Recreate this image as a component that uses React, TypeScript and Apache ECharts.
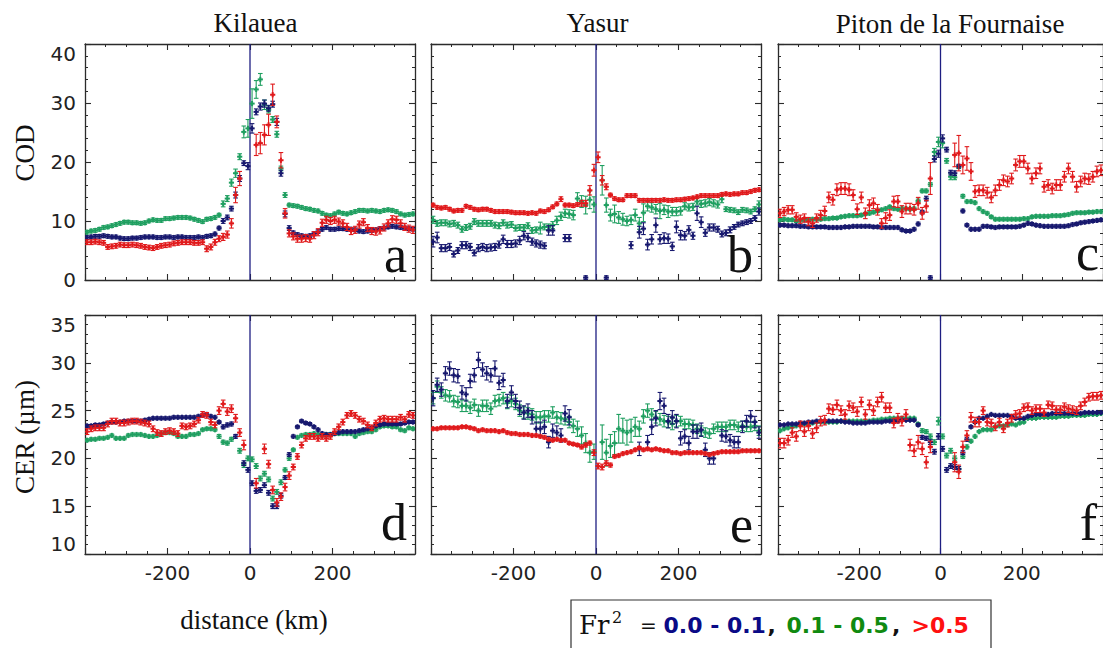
import React, { useEffect, useRef } from 'react';
import * as echarts from 'echarts';

// distance from the volcano (km), bin centres
const DIST = [
  -395,-385,-375,-365,-355,-345,-335,-325,-315,-305,
  -295,-285,-275,-265,-255,-245,-235,-225,-215,-205,
  -195,-185,-175,-165,-155,-145,-135,-125,-115,-105,
  -95,-85,-75,-65,-55,-45,-35,-25,-15,-5,
  5,15,25,35,45,55,65,75,85,95,
  105,115,125,135,145,155,165,175,185,195,
  205,215,225,235,245,255,265,275,285,295,
  305,315,325,335,345,355,365,375,385,395];

const VOLCANOES = ['Kilauea', 'Yasur', 'Piton de la Fournaise'];
const LETTERS = ['a', 'b', 'c', 'd', 'e', 'f'];
const COD_TICKS = [0, 10, 20, 30, 40];
const CER_TICKS = [10, 15, 20, 25, 30, 35];
const X_TICKS = [-200, 0, 200];

// ---------- COD, Kilauea (a)
const aNavy = [
  7.2,7.3,7.4,7.4,7.5,7.4,7.3,7.3,7.1,7.0,
  7.0,7.1,7.1,7.2,7.3,7.3,7.3,7.2,7.2,7.3,
  7.3,7.2,7.3,7.3,7.2,7.2,7.2,7.3,7.2,7.4,
  7.5,7.8,8.8,10.0,10.6,12.1,14.4,17.2,19.8,19.3,
  25.7,28.5,29.4,29.9,29.1,29.8,26.8,18.1,11.2,8.8,
  8.0,7.7,7.5,7.4,7.5,7.8,8.2,8.6,8.9,8.6,
  8.6,8.7,8.7,8.6,8.6,8.5,8.3,8.2,8.3,8.4,
  8.5,8.7,8.8,9.0,9.1,9.0,8.9,8.8,8.7,8.6];
const aNavyErr = [
  0.3,0.3,0.3,0.3,0.3,0.3,0.3,0.3,0.3,0.3,
  0.3,0.3,0.3,0.3,0.3,0.3,0.3,0.3,0.3,0.3,
  0.3,0.3,0.3,0.3,0.3,0.3,0.3,0.3,0.3,0.3,
  0.3,0.3,0.3,0.4,0.4,0.4,0.5,0.5,0.4,0.6,
  0.8,0.5,0.6,0.6,0.5,0.5,0.6,0.5,0.5,0.4,
  0.3,0.3,0.3,0.3,0.3,0.3,0.3,0.3,0.3,0.3,
  0.3,0.3,0.3,0.3,0.3,0.3,0.3,0.3,0.3,0.3,
  0.3,0.3,0.3,0.3,0.3,0.3,0.3,0.3,0.3,0.3];
const aGreen = [
  8.1,8.3,8.4,8.6,8.9,9.0,9.2,9.4,9.6,9.8,
  9.8,9.7,9.7,9.6,9.7,10.0,10.2,10.1,10.1,10.4,
  10.4,10.5,10.6,10.6,10.6,10.5,10.3,10.1,9.9,10.3,
  10.4,10.6,11.0,12.9,13.8,16.5,18.1,20.9,25.1,25.7,
  29.9,32.3,34.0,29.7,28.8,27.2,24.7,18.9,14.4,12.7,
  12.6,12.5,12.3,12.1,12.0,11.8,11.7,11.3,11.0,10.9,
  11.2,11.5,11.3,11.2,11.4,11.6,11.8,11.8,11.7,11.8,
  11.7,11.6,11.8,11.9,11.8,11.6,11.2,11.0,11.1,11.2];
const aGreenErr = [
  0.3,0.3,0.3,0.3,0.3,0.3,0.3,0.3,0.3,0.3,
  0.3,0.3,0.3,0.3,0.3,0.3,0.3,0.3,0.3,0.3,
  0.3,0.3,0.3,0.3,0.3,0.3,0.3,0.3,0.3,0.3,
  0.3,0.3,0.3,0.5,0.5,0.6,0.7,0.5,1.0,1.5,
  2.5,1.5,1.0,0.8,0.5,0.5,0.5,0.4,0.4,0.3,
  0.3,0.3,0.3,0.3,0.3,0.3,0.3,0.3,0.3,0.3,
  0.3,0.3,0.3,0.3,0.3,0.3,0.3,0.3,0.3,0.3,
  0.3,0.3,0.3,0.3,0.3,0.3,0.3,0.3,0.3,0.3];
const aRed = [
  6.4,6.4,6.5,6.4,6.3,5.6,5.7,5.8,6.0,5.9,
  5.9,6.0,5.9,5.8,5.6,5.5,5.4,5.6,5.8,5.9,
  6.0,6.2,6.3,6.4,6.4,6.4,6.3,6.3,6.4,5.3,
  5.6,6.4,7.0,7.3,7.7,9.6,14.4,17.2,null,null,
  null,22.9,23.2,24.6,26.3,31.4,26.8,20.3,11.3,7.9,
  7.4,7.0,7.0,7.1,7.0,7.6,8.1,9.7,10.2,10.0,
  10.2,9.9,9.6,9.0,8.3,8.5,9.4,9.8,8.8,8.3,
  8.2,8.4,8.9,9.6,10.3,10.2,9.6,9.0,8.7,8.5];
const aRedErr = [
  0.4,0.4,0.4,0.4,0.4,0.4,0.4,0.4,0.4,0.4,
  0.4,0.4,0.4,0.4,0.4,0.4,0.4,0.4,0.4,0.4,
  0.4,0.4,0.4,0.4,0.4,0.4,0.4,0.4,0.4,0.5,
  0.5,0.5,0.5,0.6,0.6,0.8,1.3,1.2,0,0,
  0,1.8,1.8,1.7,1.8,1.8,1.0,1.3,0.8,0.6,
  0.6,0.6,0.6,0.6,0.6,0.6,0.6,0.6,0.6,0.6,
  0.6,0.6,0.6,0.6,0.6,0.6,0.6,0.6,0.6,0.6,
  0.6,0.6,0.6,0.6,0.6,0.6,0.6,0.6,0.6,0.6];

// ---------- COD, Yasur (b)
const bNavy = [
  6.5,7.2,5.4,5.4,5.6,4.4,5.0,5.9,5.9,5.6,
  4.6,5.4,5.6,5.4,5.5,5.6,6.0,6.9,6.1,6.1,
  6.2,6.7,7.5,7.2,6.5,6.2,6.0,5.8,8.4,8.4,
  null,null,7.1,7.1,null,null,null,0.4,null,null,
  null,null,0.4,null,null,null,null,null,5.9,null,
  8.1,8.7,6.0,6.9,9.3,6.9,7.1,7.0,5.7,9.0,
  7.6,7.5,8.5,7.5,11.3,9.8,8.0,8.9,8.9,8.6,
  7.8,8.0,8.5,9.0,9.4,9.6,9.8,10.0,10.5,11.6];
const bNavyErr = [
  0.9,0.9,0.6,0.6,0.6,0.5,0.5,0.6,0.6,0.6,
  0.5,0.6,0.6,0.6,0.6,0.6,0.6,0.7,0.6,0.6,
  0.6,0.7,0.7,0.7,0.6,0.6,0.6,0.5,0.8,0.8,
  0,0,0.6,0.6,0,0,0,0.3,0,0,
  0,0,0.3,0,0,0,0,0,0.6,0,
  1.0,1.0,0.9,0.8,1.2,0.8,0.9,0.8,0.7,1.0,
  0.8,0.7,0.7,0.6,1.2,0.9,0.6,0.6,0.6,0.5,
  0.5,0.5,0.5,0.4,0.4,0.4,0.4,0.4,0.4,0.6];
const bGreen = [
  10.2,9.6,9.7,9.7,9.5,9.6,9.3,8.6,8.9,9.1,
  9.9,9.6,9.6,9.6,9.6,9.3,9.2,9.7,9.3,9.4,
  8.8,8.9,8.9,9.2,8.4,8.5,8.8,9.0,9.0,9.3,
  10.1,10.8,11.3,11.2,11.0,13.8,13.3,12.7,13.6,12.8,
  null,16.9,12.7,11.0,11.2,10.6,10.3,10.0,10.2,11.0,
  9.6,11.4,12.5,12.3,12.0,11.7,11.9,11.6,11.6,11.6,
  11.7,12.5,12.3,12.4,13.3,12.9,13.0,13.2,13.0,12.8,
  13.7,12.0,11.9,11.8,11.5,11.9,11.8,11.6,12.0,12.8];
const bGreenErr = [
  0.6,0.5,0.5,0.5,0.5,0.5,0.5,0.5,0.5,0.5,
  0.5,0.5,0.5,0.5,0.5,0.5,0.5,0.5,0.5,0.5,
  0.5,0.5,0.5,0.5,0.5,0.5,1.0,0.5,0.5,0.6,
  0.7,0.7,0.7,0.7,0.8,1.0,1.0,1.5,1.5,1.3,
  0,2.5,1.2,1.0,1.5,1.0,1.0,0.8,0.8,1.0,
  1.0,1.5,0.8,0.8,0.8,1.3,0.8,1.0,0.7,0.7,
  0.7,0.6,0.6,0.6,0.6,0.6,0.6,0.6,0.6,0.6,
  0.6,0.4,0.4,0.4,0.4,0.4,0.4,0.4,0.4,0.6];
const bRed = [
  12.7,12.3,12.2,12.3,12.0,11.7,11.8,11.8,12.5,12.3,
  12.0,11.9,12.0,12.0,11.8,11.6,11.6,11.6,11.6,11.5,
  11.4,11.4,11.4,11.3,11.4,11.3,11.7,11.6,11.9,12.4,
  12.9,13.7,12.7,12.7,12.6,12.8,13.0,13.0,15.2,18.6,
  20.8,16.9,15.8,14.4,13.8,13.6,13.6,14.3,14.3,14.3,
  13.5,13.5,13.5,13.5,13.5,13.5,13.6,13.5,13.5,13.6,
  13.6,13.7,13.8,13.9,14.1,14.3,14.3,14.3,14.3,14.3,
  14.5,14.6,14.5,14.6,14.6,14.8,14.8,15.0,15.2,15.3];
const bRedErr = [
  0.3,0.3,0.3,0.3,0.3,0.3,0.3,0.3,0.3,0.3,
  0.3,0.3,0.3,0.3,0.3,0.3,0.3,0.3,0.3,0.3,
  0.3,0.3,0.3,0.3,0.3,0.3,0.3,0.3,0.3,0.3,
  0.3,0.4,0.3,0.3,0.3,0.3,0.5,0.5,0.8,1.0,
  0.9,0.8,0.5,0.3,0.3,0.3,0.3,0.3,0.3,0.3,
  0.3,0.3,0.3,0.3,0.3,0.3,0.3,0.3,0.3,0.3,
  0.3,0.3,0.3,0.3,0.3,0.3,0.3,0.3,0.3,0.3,
  0.3,0.3,0.3,0.3,0.3,0.3,0.3,0.3,0.3,0.3];

// ---------- COD, Piton de la Fournaise (c)
const cNavy = [
  9.3,9.3,9.2,9.2,9.2,9.1,9.1,9.0,9.0,9.0,
  9.0,9.0,8.9,8.9,8.9,8.9,9.0,9.0,9.1,9.1,
  9.1,9.1,9.1,9.0,9.0,8.9,8.9,8.9,8.9,8.9,
  8.5,8.3,8.3,8.6,9.5,11.5,13.8,0.4,20.5,21.4,
  24.0,22.1,18.2,18.1,19.3,11.7,9.3,8.6,8.6,8.6,
  9.1,9.1,9.0,8.9,9.0,9.0,9.0,9.0,9.0,9.1,
  9.3,9.6,9.5,9.3,9.2,9.1,9.1,9.1,9.1,9.1,
  9.1,9.2,9.4,9.5,9.7,9.8,9.9,10.0,10.1,10.2];
const cNavyErr = [
  0.25,0.25,0.25,0.25,0.25,0.25,0.25,0.25,0.25,0.25,
  0.25,0.25,0.25,0.25,0.25,0.25,0.25,0.25,0.25,0.25,
  0.25,0.25,0.25,0.25,0.25,0.25,0.25,0.25,0.25,0.25,
  0.25,0.25,0.25,0.25,0.3,0.3,0.4,0.3,0.5,0.6,
  0.6,0.4,0.4,0.4,0.3,0.3,0.25,0.25,0.25,0.25,
  0.25,0.25,0.25,0.25,0.25,0.25,0.25,0.25,0.25,0.25,
  0.25,0.25,0.25,0.25,0.25,0.25,0.25,0.25,0.25,0.25,
  0.25,0.25,0.25,0.25,0.25,0.25,0.25,0.25,0.25,0.25];
const cGreen = [
  10.2,10.3,10.2,10.2,10.0,10.1,10.2,10.2,10.3,10.3,
  10.3,10.4,10.4,10.5,10.5,10.7,10.8,10.9,10.9,10.9,
  11.0,11.2,11.3,11.5,11.7,11.9,12.1,12.4,12.1,12.0,
  12.1,12.1,12.0,12.1,13.4,15.1,15.1,16.2,21.7,23.4,
  23.2,20.2,17.5,17.4,19.2,14.2,13.3,13.3,13.1,12.1,
  11.6,11.3,10.7,10.3,10.3,10.3,10.3,10.3,10.3,10.3,
  10.4,10.4,10.7,10.8,10.8,10.8,10.8,10.9,10.9,10.9,
  11.0,11.1,11.3,11.4,11.4,11.4,11.5,11.5,11.6,11.6];
const cGreenErr = [
  0.25,0.25,0.25,0.25,0.25,0.25,0.25,0.25,0.25,0.25,
  0.25,0.25,0.25,0.25,0.25,0.25,0.25,0.25,0.25,0.25,
  0.25,0.25,0.25,0.25,0.25,0.25,0.25,0.25,0.25,0.25,
  0.25,0.25,0.25,0.25,0.3,0.3,0.3,0.3,0.6,0.8,
  0.8,0.4,0.5,0.4,0.3,0.3,0.25,0.25,0.25,0.25,
  0.25,0.25,0.25,0.25,0.25,0.25,0.25,0.25,0.25,0.25,
  0.25,0.25,0.25,0.25,0.25,0.25,0.25,0.25,0.25,0.25,
  0.25,0.25,0.25,0.25,0.25,0.25,0.25,0.25,0.25,0.25];
const cRed = [
  11.3,11.6,11.9,11.9,10.7,10.3,10.5,9.9,9.6,10.5,
  11.0,11.7,14.0,13.6,15.3,15.5,15.5,15.3,14.4,12.0,
  14.0,11.3,12.7,13.0,11.9,9.6,10.5,11.0,13.3,13.3,
  11.6,12.1,12.1,11.9,13.0,11.3,12.5,17.2,null,null,
  null,null,null,21.2,21.5,19.5,20.6,18.4,15.0,15.2,
  15.2,14.8,14.0,15.2,16.1,16.9,16.7,17.2,19.5,20.1,
  20.1,18.9,17.2,18.1,18.9,15.8,16.1,15.5,16.1,16.1,
  17.5,18.9,17.5,15.8,16.7,17.2,17.1,17.5,18.4,18.6];
const cRedErr = [
  0.7,0.7,0.7,0.7,0.7,0.7,0.7,0.7,0.7,0.7,
  0.8,0.8,0.9,0.9,1.0,1.0,1.0,1.0,0.9,0.9,
  0.9,0.9,0.9,0.9,0.9,0.8,0.9,0.9,0.9,1.0,
  1.0,0.9,0.9,0.9,1.0,1.0,1.0,2.7,0,0,
  0,0,0,2.0,3.0,1.5,2.0,1.5,1.0,0.9,
  0.9,0.9,0.9,0.9,0.9,0.9,0.9,0.9,1.0,1.0,
  1.0,0.9,0.9,0.9,0.9,0.9,0.9,0.9,0.9,0.9,
  0.9,0.9,0.9,0.9,0.9,0.9,0.9,0.9,0.9,0.9];

// ---------- CER, Kilauea (d)
const dNavy = [
  23.4,23.4,23.5,23.5,23.6,23.7,23.8,23.8,23.8,23.9,
  23.9,23.9,23.9,23.9,24.0,24.1,24.2,24.2,24.2,24.2,
  24.2,24.3,24.3,24.3,24.3,24.3,24.3,24.4,24.5,24.6,
  24.4,24.3,23.8,23.3,23.5,23.6,22.3,null,19.5,18.8,
  17.4,16.6,16.7,17.2,16.4,15.0,15.0,16.1,18.0,20.4,
  22.3,23.3,23.9,23.7,23.6,23.3,23.0,22.6,22.5,22.5,
  22.6,22.7,22.8,22.8,22.8,22.8,22.9,23.0,23.1,23.2,
  23.4,23.5,23.6,23.6,23.6,23.6,23.6,23.7,23.8,23.8];
const dNavyErr = [
  0.15,0.15,0.15,0.15,0.15,0.15,0.15,0.15,0.15,0.15,
  0.15,0.15,0.15,0.15,0.15,0.15,0.15,0.15,0.15,0.15,
  0.15,0.15,0.15,0.15,0.15,0.15,0.15,0.15,0.15,0.15,
  0.15,0.15,0.15,0.2,0.2,0.2,0.2,0,0.25,0.25,
  0.25,0.25,0.25,0.25,0.25,0.25,0.25,0.25,0.2,0.2,
  0.15,0.15,0.15,0.15,0.15,0.15,0.15,0.15,0.15,0.15,
  0.15,0.15,0.15,0.15,0.15,0.15,0.15,0.15,0.15,0.15,
  0.15,0.15,0.15,0.15,0.15,0.15,0.15,0.15,0.15,0.15];
const dGreen = [
  21.9,22.0,22.0,22.1,22.1,22.2,22.4,22.1,22.1,22.1,
  22.4,22.5,22.5,22.5,22.4,22.3,22.3,22.4,22.6,22.7,
  22.7,22.6,22.3,22.3,22.3,22.5,22.5,22.6,23.0,23.1,
  23.1,23.0,22.3,21.7,21.6,22.0,null,20.8,19.3,20.0,
  19.9,19.2,17.9,18.4,17.8,15.8,16.5,17.5,18.8,20.0,
  20.9,22.2,22.4,22.5,22.5,22.6,22.5,22.4,22.5,22.5,
  22.6,22.6,22.6,22.6,22.6,22.3,22.6,22.7,22.8,22.8,
  23.0,23.3,23.4,23.4,23.3,23.3,23.0,22.9,23.2,23.1];
const dGreenErr = [
  0.15,0.15,0.15,0.15,0.15,0.15,0.15,0.15,0.15,0.15,
  0.15,0.15,0.15,0.15,0.15,0.15,0.15,0.15,0.15,0.15,
  0.15,0.15,0.15,0.15,0.15,0.15,0.15,0.15,0.15,0.15,
  0.15,0.15,0.2,0.2,0.2,0.2,0,0.25,0.25,0.25,
  0.25,0.25,0.25,0.25,0.25,0.25,0.25,0.25,0.2,0.2,
  0.15,0.15,0.15,0.15,0.15,0.15,0.15,0.15,0.15,0.15,
  0.15,0.15,0.15,0.15,0.15,0.15,0.15,0.15,0.15,0.15,
  0.15,0.15,0.15,0.15,0.15,0.15,0.15,0.15,0.15,0.15];
const dRed = [
  22.8,23.1,23.2,23.2,23.2,23.6,23.9,23.9,23.7,23.7,
  23.8,23.9,23.9,23.8,23.7,23.6,23.1,22.7,22.6,22.8,
  22.9,22.8,22.6,23.4,23.3,23.4,23.6,24.0,24.6,24.5,
  23.8,23.5,25.0,25.7,24.9,25.2,24.2,22.7,21.4,null,
  null,17.4,null,21.0,19.4,16.7,15.4,16.0,17.0,18.2,
  19.1,20.2,21.4,22.1,22.3,22.3,22.1,22.3,22.1,22.3,
  22.8,23.3,23.8,24.5,24.7,24.5,24.1,23.9,23.5,23.2,
  23.7,24.1,24.2,24.1,24.1,24.1,24.3,24.1,24.6,24.5];
const dRedErr = [
  0.3,0.3,0.3,0.3,0.3,0.3,0.3,0.3,0.3,0.3,
  0.3,0.3,0.3,0.3,0.3,0.3,0.3,0.3,0.3,0.3,
  0.3,0.3,0.3,0.3,0.3,0.3,0.3,0.3,0.3,0.3,
  0.3,0.3,0.4,0.4,0.4,0.4,0.4,0.4,0.5,0,
  0,0.5,0,0.5,0.4,0.4,0.4,0.4,0.4,0.4,
  0.3,0.3,0.3,0.3,0.3,0.3,0.3,0.3,0.3,0.3,
  0.3,0.3,0.3,0.3,0.3,0.3,0.3,0.3,0.3,0.3,
  0.3,0.3,0.3,0.3,0.3,0.3,0.3,0.3,0.3,0.3];

// ---------- CER, Yasur (e)
const eNavy = [
  26.3,27.7,27.2,28.9,29.4,28.7,28.6,26.9,26.7,28.1,
  28.7,30.3,29.3,28.9,28.7,29.4,27.9,28.2,26.0,26.9,
  26.0,25.3,24.8,25.0,24.3,23.1,23.1,23.3,21.7,22.9,
  22.7,22.4,24.7,24.3,null,null,null,null,null,null,
  null,null,null,null,null,null,null,null,null,null,
  21.0,null,21.7,23.3,24.2,26.0,25.5,23.9,24.3,23.9,
  22.1,22.3,21.6,22.8,22.8,23.0,20.9,20.0,20.0,null,
  22.4,22.3,21.9,21.7,21.7,23.3,23.9,24.4,23.8,22.7];
const eNavyErr = [
  0.8,0.7,0.7,0.7,0.7,0.7,0.7,0.7,0.7,0.7,
  0.7,0.8,0.7,0.7,0.7,0.8,0.7,0.7,0.7,0.7,
  0.7,0.7,0.7,0.7,0.7,0.7,0.7,0.7,0.6,0.7,
  0.7,0.7,0.8,0.8,0,0,0,0,0,0,
  0,0,0,0,0,0,0,0,0,0,
  0.7,0,0.7,0.8,0.8,0.9,0.8,0.7,0.7,0.7,
  0.7,0.7,0.7,0.7,0.7,0.7,0.7,0.6,0.6,0,
  0.6,0.6,0.6,0.6,0.6,0.6,0.6,0.6,0.6,0.6];
const eGreen = [
  26.3,27.5,26.9,26.6,26.5,26.0,25.9,25.5,25.5,25.3,
  25.6,25.0,25.5,25.5,25.2,26.0,26.1,26.3,25.8,26.0,
  25.7,25.0,24.8,24.7,24.6,24.3,24.3,24.4,24.4,24.8,
  24.3,24.2,24.1,23.8,23.4,23.1,22.4,21.6,20.6,20.7,
  null,21.7,20.6,21.3,21.6,23.1,22.9,22.7,22.9,23.3,
  23.1,24.4,25.0,24.6,24.3,24.1,23.9,23.8,23.6,23.9,
  23.9,23.6,23.6,23.5,23.1,22.9,22.7,22.6,23.1,23.3,
  23.3,23.3,23.5,23.5,23.3,23.4,23.3,23.3,23.4,22.9];
const eGreenErr = [
  0.6,0.6,0.6,0.6,0.6,0.6,0.6,0.6,0.6,0.6,
  0.6,0.6,0.6,0.6,0.6,0.6,0.6,0.6,0.6,0.6,
  0.6,0.6,0.6,0.6,0.6,0.6,0.6,0.6,0.6,0.6,
  0.6,0.6,0.6,0.6,0.7,0.8,0.9,1.0,1.0,0.8,
  0,1.8,1.4,1.2,1.2,1.5,1.3,1.3,1.2,1.0,
  0.8,0.7,0.7,0.6,0.6,0.6,0.6,0.6,0.6,0.6,
  0.5,0.5,0.5,0.5,0.5,0.5,0.5,0.5,0.5,0.5,
  0.5,0.5,0.5,0.5,0.5,0.5,0.5,0.5,0.5,0.5];
const eRed = [
  23.1,23.1,23.2,23.2,23.2,23.2,23.2,23.3,23.3,23.2,
  23.1,22.9,23.0,22.9,22.9,22.9,22.8,22.9,22.7,22.6,
  22.6,22.5,22.5,22.5,22.4,22.4,22.3,22.2,22.0,21.9,
  22.0,21.9,21.9,21.6,21.5,21.4,21.2,21.4,21.6,20.6,
  19.2,19.1,19.5,19.3,20.2,20.3,20.5,20.6,20.7,20.9,
  21.1,20.9,21.0,20.9,21.0,20.9,20.8,20.8,20.6,20.6,
  20.5,20.6,20.6,20.6,20.6,20.6,20.5,20.4,20.5,20.6,
  20.7,20.7,20.7,20.7,20.7,20.8,20.8,20.8,20.8,20.8];
const eRedErr = [
  0.15,0.15,0.15,0.15,0.15,0.15,0.15,0.15,0.15,0.15,
  0.15,0.15,0.15,0.15,0.15,0.15,0.15,0.15,0.15,0.15,
  0.15,0.15,0.15,0.15,0.15,0.15,0.15,0.15,0.15,0.15,
  0.15,0.15,0.15,0.15,0.15,0.15,0.2,0.2,0.2,0.3,
  0.3,0.3,0.25,0.2,0.15,0.15,0.15,0.15,0.15,0.15,
  0.15,0.15,0.15,0.15,0.15,0.15,0.15,0.15,0.15,0.15,
  0.15,0.15,0.15,0.15,0.15,0.15,0.15,0.15,0.15,0.15,
  0.15,0.15,0.15,0.15,0.15,0.15,0.15,0.15,0.15,0.15];

// ---------- CER, Piton de la Fournaise (f)
const fNavy = [
  23.5,23.5,23.6,23.6,23.6,23.7,23.7,23.8,23.8,23.9,
  23.9,23.9,23.9,23.9,23.9,23.9,23.8,23.8,23.7,23.7,
  23.7,23.7,23.8,23.8,23.8,23.8,23.9,23.9,23.9,23.9,
  24.0,24.0,24.0,24.0,23.5,22.2,22.1,21.7,20.7,22.3,
  21.0,18.8,19.2,19.1,18.9,20.6,22.0,23.3,23.8,24.2,
  24.2,24.4,24.6,24.5,24.5,24.5,24.5,24.4,24.2,24.2,
  24.2,24.4,24.5,24.6,24.6,24.6,24.6,24.7,24.7,24.7,
  24.7,24.7,24.7,24.7,24.7,24.8,24.8,24.8,24.8,24.8];
const fNavyErr = [
  0.12,0.12,0.12,0.12,0.12,0.12,0.12,0.12,0.12,0.12,
  0.12,0.12,0.12,0.12,0.12,0.12,0.12,0.12,0.12,0.12,
  0.12,0.12,0.12,0.12,0.12,0.12,0.12,0.12,0.12,0.12,
  0.12,0.12,0.12,0.12,0.15,0.2,0.2,0.25,0.25,0.3,
  0.25,0.25,0.25,0.25,0.25,0.2,0.2,0.15,0.15,0.12,
  0.12,0.12,0.12,0.12,0.12,0.12,0.12,0.12,0.12,0.12,
  0.12,0.12,0.12,0.12,0.12,0.12,0.12,0.12,0.12,0.12,
  0.12,0.12,0.12,0.12,0.12,0.12,0.12,0.12,0.12,0.12];
const fGreen = [
  22.9,23.1,23.2,23.3,23.4,23.5,23.6,23.7,23.7,23.8,
  23.8,23.8,23.8,23.8,23.8,23.9,23.9,23.9,23.9,23.9,
  23.9,23.9,23.9,24.0,24.0,24.1,24.1,24.2,24.2,24.2,
  24.2,24.2,24.2,24.2,23.6,22.9,22.8,22.3,21.7,23.9,
  22.3,20.3,20.8,20.0,18.9,20.2,21.2,21.8,22.3,22.8,
  23.0,23.0,23.0,23.3,23.4,23.4,23.5,23.6,23.5,23.7,
  23.8,24.2,24.2,24.2,24.3,24.3,24.3,24.3,24.3,24.4,
  24.4,24.4,24.5,24.5,24.5,24.5,24.6,24.6,24.6,24.7];
const fGreenErr = [
  0.12,0.12,0.12,0.12,0.12,0.12,0.12,0.12,0.12,0.12,
  0.12,0.12,0.12,0.12,0.12,0.12,0.12,0.12,0.12,0.12,
  0.12,0.12,0.12,0.12,0.12,0.12,0.12,0.12,0.12,0.12,
  0.12,0.12,0.12,0.12,0.15,0.2,0.2,0.25,0.25,0.4,
  0.25,0.25,0.25,0.25,0.25,0.2,0.2,0.15,0.15,0.12,
  0.12,0.12,0.12,0.12,0.12,0.12,0.12,0.12,0.12,0.12,
  0.12,0.12,0.12,0.12,0.12,0.12,0.12,0.12,0.12,0.12,
  0.12,0.12,0.12,0.12,0.12,0.12,0.12,0.12,0.12,0.12];
const fRed = [
  21.6,21.6,21.9,22.7,22.3,23.4,22.8,23.4,22.6,23.2,
  23.9,24.0,25.2,25.1,25.6,25.0,24.6,25.5,25.3,24.9,
  25.9,24.6,25.6,25.0,25.9,26.4,25.3,25.3,23.7,24.2,
  23.9,24.6,21.4,20.8,21.7,21.0,19.6,21.2,null,null,
  null,null,null,19.6,18.6,21.2,22.4,24.3,23.8,23.8,
  25.0,23.8,23.7,23.3,23.8,23.1,23.7,24.2,24.6,24.7,
  25.3,25.4,25.0,25.2,25.2,24.8,25.6,25.5,25.1,25.1,
  25.4,25.2,25.1,25.0,25.5,25.9,26.4,26.5,26.5,26.6];
const fRedErr = [
  0.5,0.5,0.5,0.5,0.5,0.5,0.5,0.5,0.5,0.5,
  0.5,0.5,0.5,0.5,0.5,0.5,0.5,0.5,0.5,0.5,
  0.5,0.5,0.5,0.5,0.5,0.5,0.5,0.5,0.5,0.5,
  0.5,0.5,0.6,0.6,0.7,0.6,0.6,0.6,0,0,
  0,0,0,1.0,0.7,0.6,0.5,0.5,0.5,0.5,
  0.4,0.4,0.4,0.4,0.4,0.4,0.4,0.4,0.4,0.4,
  0.4,0.4,0.4,0.4,0.4,0.4,0.4,0.4,0.4,0.4,
  0.4,0.4,0.4,0.4,0.4,0.4,0.4,0.4,0.4,0.4];

const NAVY = '#17186e';
const GREEN = '#1f9f60';
const RED = '#e01a1c';
const AXIS = '#2b2b2b';
const ZERO = '#1e1e82';
const SERIF = '"Liberation Serif", "Times New Roman", serif';
const SERIF2 = '"DejaVu Serif", "Liberation Serif", serif';
const SANS = '"DejaVu Sans", sans-serif';

const PANELS = [
  { navy: aNavy, navyErr: aNavyErr, green: aGreen, greenErr: aGreenErr, red: aRed, redErr: aRedErr },
  { navy: bNavy, navyErr: bNavyErr, green: bGreen, greenErr: bGreenErr, red: bRed, redErr: bRedErr },
  { navy: cNavy, navyErr: cNavyErr, green: cGreen, greenErr: cGreenErr, red: cRed, redErr: cRedErr },
  { navy: dNavy, navyErr: dNavyErr, green: dGreen, greenErr: dGreenErr, red: dRed, redErr: dRedErr },
  { navy: eNavy, navyErr: eNavyErr, green: eGreen, greenErr: eGreenErr, red: eRed, redErr: eRedErr },
  { navy: fNavy, navyErr: fNavyErr, green: fGreen, greenErr: fGreenErr, red: fRed, redErr: fRedErr },
];

const LEFTS = [85, 431, 778];
const TOPS = [44, 315];
const HEIGHTS = [236, 239];
const PW = 330;

function toData(vals: (number | null)[], errs: number[]) {
  const out: number[][] = [];
  for (let i = 0; i < DIST.length; i++) {
    const v = vals[i];
    if (v == null) continue;
    out.push([DIST[i], v, errs[i]]);
  }
  return out;
}

function makeRender(color: string) {
  return (params: any, api: any) => {
    const x = api.value(0), y = api.value(1), e = api.value(2);
    const c = api.coord([x, y]);
    const hi = api.coord([x, y + e])[1];
    const lo = api.coord([x, y - e])[1];
    const cap = 2.3, arm = 2.6;
    const thin = { stroke: color, lineWidth: 1.1 };
    const thick = { stroke: color, lineWidth: 2 };
    return {
      type: 'group',
      children: [
        { type: 'line', shape: { x1: c[0], y1: hi, x2: c[0], y2: lo }, style: thin },
        { type: 'line', shape: { x1: c[0] - cap, y1: hi, x2: c[0] + cap, y2: hi }, style: thin },
        { type: 'line', shape: { x1: c[0] - cap, y1: lo, x2: c[0] + cap, y2: lo }, style: thin },
        { type: 'line', shape: { x1: c[0] - arm, y1: c[1], x2: c[0] + arm, y2: c[1] }, style: thick },
        { type: 'line', shape: { x1: c[0], y1: c[1] - arm, x2: c[0], y2: c[1] + arm }, style: thick },
      ],
    };
  };
}

function buildOption() {
  const grids: any[] = [];
  const xAxes: any[] = [];
  const yAxes: any[] = [];
  const series: any[] = [];

  PANELS.forEach((p, i) => {
    const row = Math.floor(i / 3);
    const col = i % 3;
    grids.push({ left: LEFTS[col], top: TOPS[row], width: PW, height: HEIGHTS[row], show: false });

    const lineCommon = { show: true, onZero: false, lineStyle: { color: AXIS, width: 1.3 } };
    const tick = { show: true, inside: true, length: 6, lineStyle: { color: AXIS, width: 1.1 } };
    const minor = (n: number) => ({ show: true, splitNumber: n, length: 3, lineStyle: { color: AXIS, width: 1 } });

    const xBase = {
      type: 'value', gridIndex: i, min: -400, max: 400, interval: 200,
      axisLine: lineCommon, axisTick: tick, minorTick: minor(4),
      splitLine: { show: false }, minorSplitLine: { show: false },
    };
    xAxes.push({
      ...xBase, position: 'bottom',
      axisLabel: {
        show: row === 1, showMinLabel: false, showMaxLabel: false, margin: 9,
        fontFamily: SANS, fontSize: 20, color: '#222',
        formatter: (v: number) => (X_TICKS.indexOf(v) >= 0 ? String(v) : ''),
      },
    });
    xAxes.push({ ...xBase, position: 'top', axisLabel: { show: false } });

    const ticks = row === 0 ? COD_TICKS : CER_TICKS;
    const yBase = {
      type: 'value', gridIndex: i,
      min: ticks[0], max: ticks[ticks.length - 1], interval: ticks[1] - ticks[0],
      axisLine: lineCommon, axisTick: tick, minorTick: minor(5),
      splitLine: { show: false }, minorSplitLine: { show: false },
    };
    yAxes.push({
      ...yBase, position: 'left',
      axisLabel: {
        show: col === 0, margin: 9, fontFamily: SANS, fontSize: 20, color: '#222',
        verticalAlignMaxLabel: 'top',
        verticalAlignMinLabel: row === 1 ? 'bottom' : 'middle',
      },
    });
    yAxes.push({ ...yBase, position: 'right', axisLabel: { show: false } });

    const xi = 2 * i, yi = 2 * i;
    series.push({
      type: 'line', xAxisIndex: xi, yAxisIndex: yi, silent: true, z: 1,
      data: [[0, ticks[0]], [0, ticks[ticks.length - 1]]],
      symbol: 'none', lineStyle: { color: ZERO, width: 1.3 },
    });
    const groups: [any, any, string][] = [
      [p.green, p.greenErr, GREEN],
      [p.navy, p.navyErr, NAVY],
      [p.red, p.redErr, RED],
    ];
    groups.forEach(([vals, errs, color], k) => {
      series.push({
        type: 'custom', xAxisIndex: xi, yAxisIndex: yi, silent: true, clip: true, z: 2 + k,
        renderItem: makeRender(color),
        encode: { x: 0, y: 1 },
        data: toData(vals, errs),
      });
    });
  });

  const txt = (x: number, y: number, text: string, font: any, extra: any = {}) => ({
    type: 'text', x, y, silent: true, ...extra,
    style: {
      text, fill: '#111', align: 'center', verticalAlign: 'middle',
      textAlign: 'center', textVerticalAlign: 'middle', ...font,
    },
  });

  const titleFont = { fontFamily: SERIF, fontSize: 27 };
  const letterFont = { fontFamily: SERIF, fontSize: 52, align: 'right', textAlign: 'right' };
  const boldFont = { fontFamily: SANS, fontSize: 22, fontWeight: 'bold', align: 'left', textAlign: 'left' };

  const elements: any[] = [
    txt(255.5, 22.5, VOLCANOES[0], titleFont),
    txt(597.5, 22.5, VOLCANOES[1], titleFont),
    txt(950, 23.5, VOLCANOES[2], titleFont),
    txt(25, 153, 'COD', titleFont, { rotation: Math.PI / 2 }),
    txt(25, 437, 'CER (µm)', titleFont, { rotation: Math.PI / 2 }),
    txt(254, 620, 'distance (km)', titleFont),
    txt(407, 254, LETTERS[0], letterFont),
    txt(753, 254, LETTERS[1], letterFont),
    txt(1099, 252, LETTERS[2], letterFont),
    txt(407, 522.5, LETTERS[3], letterFont),
    txt(753, 524, LETTERS[4], letterFont),
    txt(1097, 522.5, LETTERS[5], letterFont),
    {
      type: 'rect', silent: true,
      shape: { x: 571, y: 600, width: 420, height: 60 },
      style: { fill: '#fff', stroke: '#333', lineWidth: 1.2 },
    },
    txt(579, 624.5, 'Fr', { fontFamily: SERIF2, fontSize: 26, align: 'left', textAlign: 'left' }),
    txt(612, 617, '2', { fontFamily: SERIF2, fontSize: 16, align: 'left', textAlign: 'left' }),
    txt(640, 624.5, '=', { fontFamily: SANS, fontSize: 20, align: 'left', textAlign: 'left' }),
    txt(663.5, 625, '0.0 - 0.1', { ...boldFont, fill: '#0a0a86' }),
    txt(767.5, 625, ',', { ...boldFont, fill: '#111' }),
    txt(786.5, 625, '0.1 - 0.5', { ...boldFont, fill: '#108a10' }),
    txt(892, 625, ',', { ...boldFont, fill: '#111' }),
    txt(911.5, 625, '>0.5', { ...boldFont, fill: '#ff1010' }),
  ];

  return {
    animation: false,
    backgroundColor: '#fff',
    grid: grids,
    xAxis: xAxes,
    yAxis: yAxes,
    series,
    graphic: { elements },
  };
}

export default function App() {
  const ref = useRef<HTMLDivElement>(null);
  useEffect(() => {
    if (!ref.current) return;
    const chart = echarts.init(ref.current, undefined, { renderer: 'svg' });
    chart.setOption(buildOption() as any);
    return () => chart.dispose();
  }, []);
  return (
    <div
      ref={ref}
      style={{ position: 'absolute', left: 0, top: 0, width: 1103, height: 648, background: '#fff' }}
    />
  );
}
